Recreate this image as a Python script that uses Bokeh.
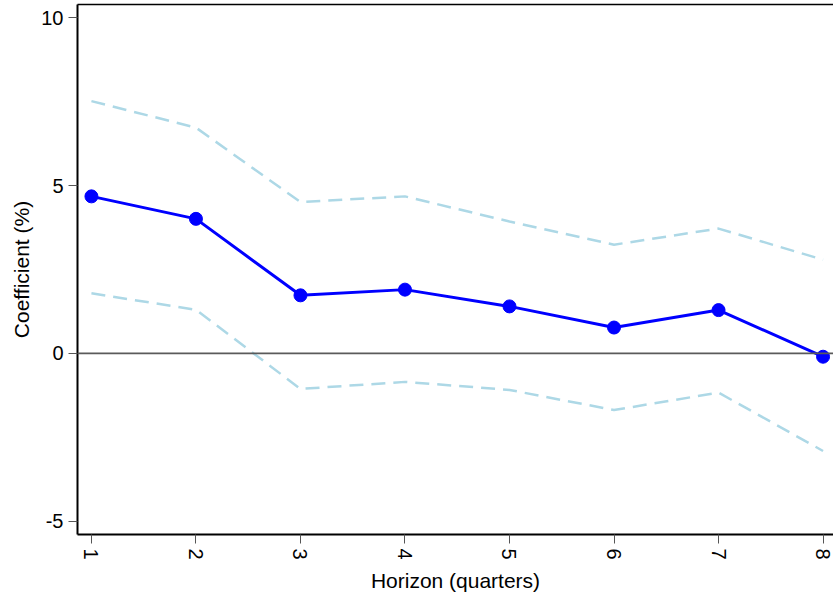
from bokeh.plotting import figure
from bokeh.models import FixedTicker, Span, LinearAxis, Range1d, ColumnDataSource
from bokeh.embed import file_html
from bokeh.resources import INLINE
import math

horizon = [1, 2, 3, 4, 5, 6, 7, 8]
coef = [4.68, 4.01, 1.73, 1.90, 1.40, 0.77, 1.29, -0.10]
upper = [7.52, 6.73, 4.51, 4.68, 3.93, 3.24, 3.72, 2.79]
lower = [1.79, 1.30, -1.06, -0.85, -1.09, -1.69, -1.17, -2.91]
x_ticks = [1, 2, 3, 4, 5, 6, 7, 8]
y_ticks = [-5, 0, 5, 10]
y_tick_labels = {-5: "-5", 0: "0", 5: "5", 10: "10"}

src = ColumnDataSource(dict(x=horizon, coef=coef, upper=upper, lower=lower))

FONT = "Liberation Sans"

p = figure(width=833, height=596, output_backend="svg", toolbar_location=None,
           x_range=Range1d(0.8667, 8.10), y_range=Range1d(-5.40, 10.40),
           min_border_left=77, min_border_right=0, min_border_top=4, min_border_bottom=62)
p.outline_line_color = None
p.xgrid.visible = False
p.ygrid.visible = False
p.background_fill_color = "white"
p.border_fill_color = "white"

zero = Span(location=0, dimension="width", line_color="#5a5a5a", line_width=1.6)
p.add_layout(zero)

p.line("x", "upper", source=src, line_color="#add8e6", line_width=2.5, line_dash="14 8")
p.line("x", "lower", source=src, line_color="#add8e6", line_width=2.5, line_dash="14 8")
p.line("x", "coef", source=src, line_color="#0000ff", line_width=3)
p.scatter("x", "coef", source=src, size=13, fill_color="#0000ff", line_color="#0000ff")

# bottom axis
xa = p.xaxis[0]
xa.ticker = FixedTicker(ticks=x_ticks)
xa.major_label_orientation = -math.pi / 2
xa.axis_label = "Horizon (quarters)"
xa.axis_label_text_font = FONT
xa.axis_label_text_font_size = "21px"
xa.axis_label_text_font_style = "normal"
xa.axis_label_text_color = "black"
xa.axis_label_standoff = 6
xa.major_label_text_font = FONT
xa.major_label_text_font_size = "20px"
xa.major_label_text_color = "black"
xa.major_label_standoff = 5
xa.major_tick_out = 9
xa.major_tick_in = 0
xa.minor_tick_line_color = None
xa.major_tick_line_color = "#555555"
xa.axis_line_color = "black"
xa.axis_line_width = 2

ya = p.yaxis[0]
ya.ticker = FixedTicker(ticks=y_ticks)
ya.major_label_overrides = y_tick_labels
ya.axis_label = "Coefficient (%)"
ya.axis_label_text_font = FONT
ya.axis_label_text_font_size = "21px"
ya.axis_label_text_font_style = "normal"
ya.axis_label_text_color = "black"
ya.axis_label_standoff = 5
ya.major_label_text_font = FONT
ya.major_label_text_font_size = "20px"
ya.major_label_text_color = "black"
ya.major_label_standoff = 5
ya.major_label_orientation = "horizontal"
ya.major_tick_out = 9
ya.major_tick_in = 0
ya.minor_tick_line_color = None
ya.major_tick_line_color = "#555555"
ya.axis_line_color = "black"
ya.axis_line_width = 2

top = LinearAxis(ticker=FixedTicker(ticks=[]), major_tick_out=0, major_tick_in=0,
                 minor_tick_line_color=None, major_label_text_font_size="0px",
                 major_label_standoff=0, axis_line_color="black", axis_line_width=1.5)
p.add_layout(top, "above")

open("out.html", "w").write(file_html(p, INLINE))
